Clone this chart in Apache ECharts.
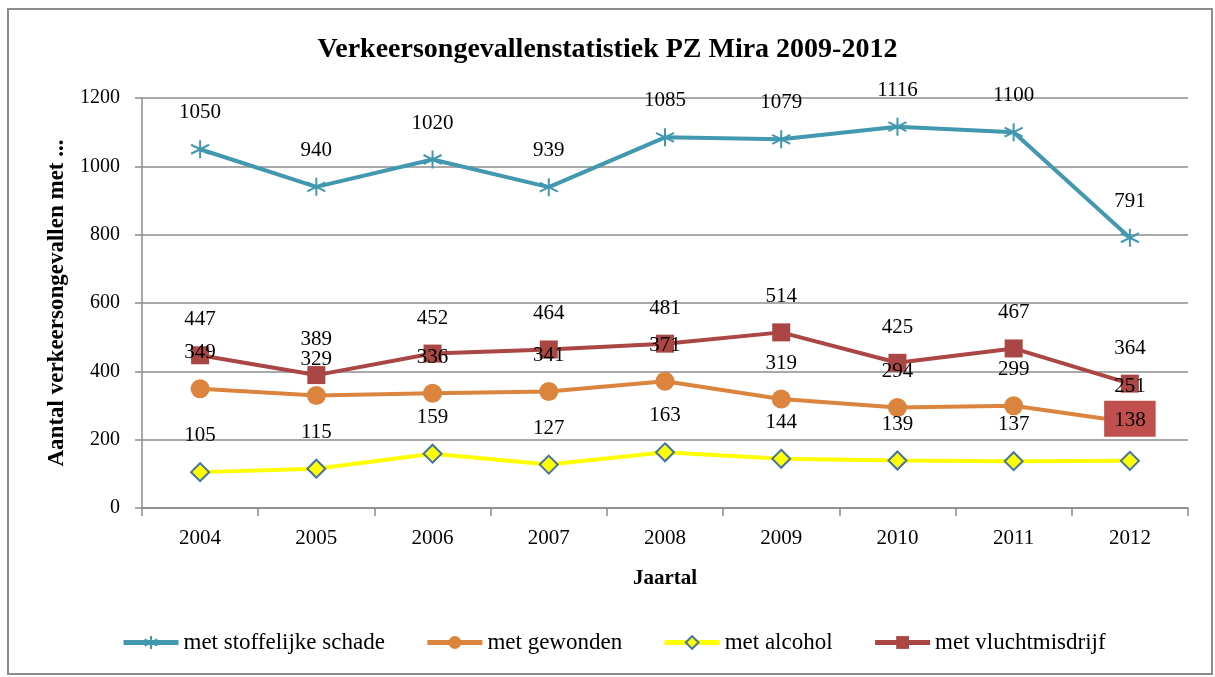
<!DOCTYPE html>
<html>
<head>
<meta charset="utf-8">
<script src="https://cdn.jsdelivr.net/npm/echarts@6/dist/echarts.min.js"></script>
<style>
  body { margin: 0; background: #fff; }
  #frame { position: absolute; left: 7px; top: 8px; width: 1206px; height: 667px; border: 2px solid #8c8c8c; box-sizing: border-box; }
  #chart { position: absolute; left: 0; top: 0; width: 1215px; height: 677px; }
</style>
</head>
<body>
<div id="frame"></div>
<div id="chart"></div>
<script>
var jaren = ["2004", "2005", "2006", "2007", "2008", "2009", "2010", "2011", "2012"];
var stoffelijk = [1050, 940, 1020, 939, 1085, 1079, 1116, 1100, 791];
var gewonden = [349, 329, 336, 341, 371, 319, 294, 299, 251];
var alcohol = [105, 115, 159, 127, 163, 144, 139, 137, 138];
var vlucht = [447, 389, 452, 464, 481, 514, 425, 467, 364];

var lettertype = "Liberation Serif";
var sterPad = "path://M0,-10L0,10M-8.66,-5L8.66,5M-8.66,5L8.66,-5";

//label boven elk punt
function lbl() {
  return { show: true, position: "top", distance: 16, fontSize: 21, color: "#000", fontFamily: lettertype };
}

//laatste alcohol-label staat in een rood vak
var alcoholData = alcohol.map(function (v, i) {
  if (i === alcohol.length - 1) {
    return {
      value: v,
      label: { backgroundColor: "#C0504D", padding: [9, 10, 6, 10], distance: 14 }
    };
  }
  return v;
});

var chartDom = document.getElementById("chart");
var myChart = echarts.init(chartDom);

option = {
  animation: false,
  title: {
    text: "Verkeersongevallenstatistiek PZ Mira 2009-2012",
    left: "center",
    top: 31,
    textStyle: { fontSize: 28, fontWeight: "bold", color: "#000", fontFamily: lettertype }
  },
  grid: { left: 142, right: 27, top: 98, bottom: 169 },
  legend: {
    bottom: 18,
    left: 116,
    itemWidth: 55,
    itemHeight: 16,
    itemGap: 40,
    lineStyle: { width: 5 },
    textStyle: { fontSize: 23, color: "#000", fontFamily: lettertype },
    data: ["met stoffelijke schade", "met gewonden", "met alcohol", "met vluchtmisdrijf"]
  },
  xAxis: {
    type: "category",
    data: jaren,
    name: "Jaartal",
    nameLocation: "middle",
    nameGap: 60,
    nameTextStyle: { fontSize: 21, fontWeight: "bold", color: "#000", fontFamily: lettertype },
    axisLine: { lineStyle: { color: "#8c8c8c", width: 1.5 } },
    axisTick: { show: true, length: 8, lineStyle: { color: "#8c8c8c", width: 1.5 } },
    axisLabel: { fontSize: 21, color: "#000", margin: 20, fontFamily: lettertype }
  },
  yAxis: {
    type: "value",
    min: 0,
    max: 1200,
    interval: 200,
    name: "Aantal verkeersongevallen met ...",
    nameLocation: "middle",
    nameGap: 73,
    nameTextStyle: { fontSize: 23, fontWeight: "bold", color: "#000", fontFamily: lettertype },
    axisLine: { show: true, lineStyle: { color: "#8c8c8c", width: 1.5 } },
    axisTick: { show: true, length: 7, lineStyle: { color: "#8c8c8c", width: 1.5 } },
    axisLabel: { fontSize: 20, color: "#000", margin: 22, fontFamily: lettertype, formatter: function (v) { return String(v); } },
    splitLine: { lineStyle: { color: "#8c8c8c", width: 1.5 } }
  },
  series: [
    {
      name: "met stoffelijke schade",
      type: "line",
      data: stoffelijk,
      symbol: sterPad,
      symbolSize: 18,
      lineStyle: { color: "#4198AF", width: 4 },
      itemStyle: { color: "#4198AF", borderColor: "#4198AF", borderWidth: 2 },
      label: lbl()
    },
    {
      name: "met gewonden",
      type: "line",
      data: gewonden,
      symbol: "circle",
      symbolSize: 19,
      lineStyle: { color: "#DB843D", width: 4 },
      itemStyle: { color: "#DB843D", borderColor: "#DB843D", borderWidth: 0 },
      label: lbl()
    },
    {
      name: "met alcohol",
      type: "line",
      data: alcoholData,
      symbol: "diamond",
      symbolSize: [18, 18],
      lineStyle: { color: "#FFFF00", width: 4 },
      itemStyle: { color: "#FFFF00", borderColor: "#4572A7", borderWidth: 2 },
      label: lbl()
    },
    {
      name: "met vluchtmisdrijf",
      type: "line",
      data: vlucht,
      symbol: "rect",
      symbolSize: 18,
      lineStyle: { color: "#AA4643", width: 4 },
      itemStyle: { color: "#AA4643", borderColor: "#AA4643", borderWidth: 0 },
      label: lbl()
    }
  ]
};

myChart.setOption(option);
</script>
</body>
</html>
